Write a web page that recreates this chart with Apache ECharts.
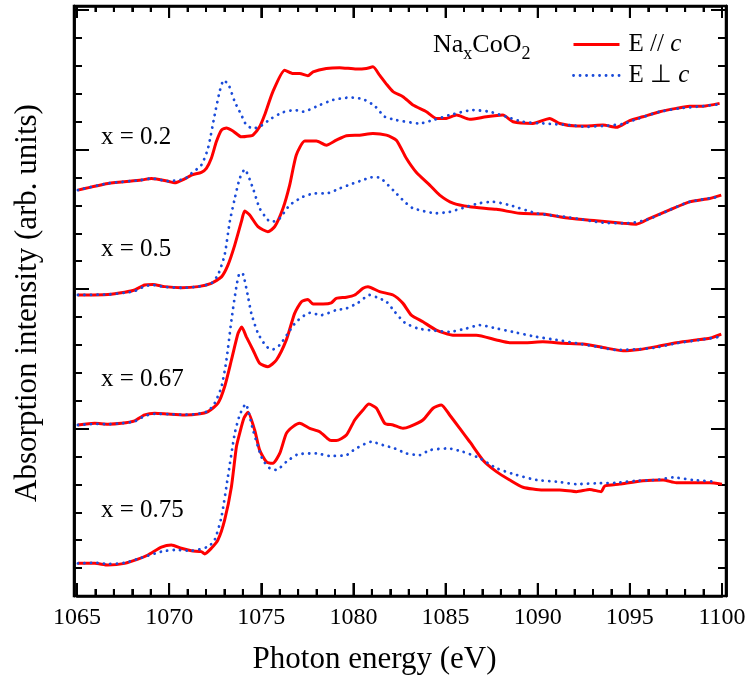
<!DOCTYPE html>
<html>
<head>
<meta charset="utf-8">
<script src="https://cdn.jsdelivr.net/npm/echarts@6/dist/echarts.min.js"></script>
<style>html,body{margin:0;padding:0;background:#fff}#c{width:749px;height:688px}</style>
</head>
<body>
<div id="c"></div>
<script>
// ---- data (energy eV, absorption intensity arb. units incl. vertical offset) ----
const xMajorTicks = [1065, 1070, 1075, 1080, 1085, 1090, 1095, 1100];
const yMajorTicks = [6, 11, 16, 21];
const sampleLabels = ['x = 0.2', 'x = 0.5', 'x = 0.67', 'x = 0.75'];
const seriesNames = ['E // c', 'E \u22A5 c'];

const par_x020 = [[1065.05,14.55],[1066.68,14.79],[1068.49,14.91],[1069.04,14.97],[1069.94,14.87],[1070.30,14.81],[1070.84,14.95],[1071.21,15.09],[1071.75,15.19],[1072.02,15.33],[1072.29,15.69],[1072.56,16.28],[1072.84,16.70],[1073.11,16.78],[1073.46,16.67],[1073.92,16.46],[1074.37,16.49],[1074.55,16.52],[1074.91,16.82],[1075.18,17.24],[1075.63,18.08],[1076.27,18.85],[1076.72,18.73],[1077.08,18.73],[1077.53,18.65],[1077.81,18.79],[1078.53,18.91],[1079.25,18.94],[1080.16,18.89],[1080.70,18.91],[1081.06,18.97],[1081.42,18.67],[1081.79,18.35],[1082.15,18.08],[1082.69,17.90],[1083.23,17.60],[1083.96,17.36],[1084.50,17.12],[1085.04,17.12],[1085.59,17.24],[1086.31,17.09],[1087.21,17.18],[1088.11,17.24],[1088.66,17.00],[1089.74,16.94],[1090.65,17.12],[1091.19,16.94],[1092.10,16.85],[1092.64,16.85],[1093.54,16.88],[1094.27,16.80],[1094.99,17.04],[1095.71,17.18],[1096.62,17.36],[1097.52,17.48],[1098.24,17.56],[1098.97,17.56],[1099.87,17.66]];
const perp_x020 = [[1065.05,14.55],[1066.68,14.79],[1068.49,14.91],[1069.04,14.97],[1069.94,14.87],[1070.84,14.95],[1071.21,15.15],[1071.75,15.45],[1072.11,16.05],[1072.47,17.24],[1072.74,18.08],[1072.96,18.49],[1073.23,18.32],[1073.56,17.72],[1073.92,17.24],[1074.19,16.88],[1074.55,16.76],[1074.91,16.82],[1075.55,17.12],[1076.18,17.34],[1076.81,17.42],[1077.26,17.36],[1078.17,17.60],[1078.89,17.78],[1079.80,17.87],[1080.52,17.81],[1081.15,17.57],[1081.70,17.18],[1082.33,17.06],[1083.59,16.94],[1084.32,17.06],[1085.22,17.24],[1086.49,17.42],[1087.39,17.36],[1088.30,17.18],[1089.20,17.00],[1090.28,16.94],[1091.73,16.88],[1092.64,16.82],[1093.54,16.85],[1094.63,16.92],[1095.35,17.09],[1096.62,17.36],[1097.70,17.48],[1098.97,17.56],[1099.87,17.63]];
const par_x050 = [[1065.05,10.79],[1066.68,10.81],[1067.59,10.89],[1068.13,10.97],[1068.67,11.15],[1069.12,11.17],[1069.76,11.09],[1070.66,11.05],[1071.57,11.09],[1072.29,11.21],[1072.84,11.44],[1073.19,11.86],[1073.56,12.58],[1073.92,13.42],[1074.10,13.80],[1074.37,13.66],[1074.82,13.24],[1075.36,13.06],[1075.73,13.24],[1076.18,13.90],[1076.54,14.73],[1076.90,15.81],[1077.36,16.31],[1077.99,16.31],[1078.53,16.16],[1079.07,16.34],[1079.62,16.50],[1080.34,16.52],[1081.06,16.58],[1081.79,16.52],[1082.33,16.34],[1082.87,15.69],[1083.42,15.18],[1084.14,14.73],[1084.68,14.37],[1085.40,14.08],[1086.31,13.95],[1087.76,13.86],[1089.02,13.72],[1090.28,13.69],[1091.73,13.54],[1093.18,13.45],[1094.63,13.36],[1095.35,13.33],[1096.08,13.54],[1097.16,13.84],[1098.24,14.13],[1099.33,14.25],[1099.96,14.37]];
const perp_x050 = [[1065.05,10.79],[1066.68,10.81],[1067.59,10.87],[1068.13,10.93],[1068.67,11.10],[1069.12,11.15],[1069.76,11.08],[1070.66,11.05],[1071.57,11.09],[1072.29,11.21],[1072.65,11.51],[1073.01,12.22],[1073.29,13.42],[1073.56,14.25],[1073.83,14.97],[1074.10,15.29],[1074.55,14.61],[1074.91,13.90],[1075.36,13.48],[1075.63,13.42],[1076.00,13.54],[1076.54,14.01],[1077.26,14.31],[1077.90,14.43],[1078.53,14.43],[1079.25,14.61],[1079.98,14.79],[1080.52,14.91],[1080.97,15.01],[1081.33,15.01],[1081.60,14.91],[1082.24,14.49],[1082.78,14.13],[1083.23,13.90],[1084.50,13.72],[1085.22,13.77],[1086.13,13.95],[1086.85,14.08],[1087.57,14.13],[1088.48,14.01],[1089.93,13.72],[1091.73,13.57],[1093.54,13.38],[1094.81,13.36],[1095.90,13.48],[1097.16,13.84],[1098.24,14.13],[1099.87,14.31]];
const par_x067 = [[1065.05,6.13],[1065.96,6.19],[1066.68,6.16],[1067.41,6.19],[1068.13,6.28],[1068.67,6.49],[1069.22,6.55],[1069.94,6.52],[1070.84,6.49],[1071.57,6.52],[1072.11,6.61],[1072.65,6.91],[1073.01,7.50],[1073.38,8.46],[1073.74,9.42],[1073.94,9.64],[1074.19,9.29],[1074.55,8.82],[1074.91,8.34],[1075.36,8.22],[1075.82,8.46],[1076.36,9.18],[1076.81,10.13],[1077.18,10.55],[1077.53,10.63],[1077.81,10.47],[1078.35,10.47],[1078.80,10.51],[1079.07,10.67],[1079.62,10.71],[1080.07,10.79],[1080.52,11.03],[1080.79,11.09],[1081.42,10.91],[1082.15,10.79],[1082.69,10.49],[1083.14,10.07],[1083.77,9.83],[1084.50,9.53],[1085.40,9.35],[1086.67,9.35],[1087.76,9.18],[1088.48,9.08],[1089.38,9.08],[1090.28,9.11],[1091.37,9.06],[1092.46,9.03],[1093.54,8.91],[1094.63,8.79],[1095.53,8.84],[1096.44,8.94],[1097.52,9.08],[1098.61,9.18],[1099.33,9.24],[1099.96,9.39]];
const perp_x067 = [[1065.05,6.13],[1065.96,6.17],[1066.68,6.16],[1067.41,6.19],[1068.13,6.26],[1068.67,6.45],[1069.22,6.53],[1069.94,6.52],[1070.84,6.50],[1071.57,6.53],[1072.11,6.63],[1072.47,6.91],[1072.84,7.50],[1073.11,8.46],[1073.38,9.89],[1073.65,11.09],[1073.83,11.57],[1074.01,11.54],[1074.28,10.73],[1074.46,10.13],[1074.82,9.42],[1075.28,8.94],[1075.63,8.84],[1076.00,9.00],[1076.45,9.42],[1076.90,9.83],[1077.63,10.15],[1078.26,10.07],[1079.07,10.25],[1079.62,10.31],[1080.25,10.51],[1080.88,10.79],[1081.25,10.71],[1081.79,10.55],[1082.24,10.19],[1082.78,9.80],[1083.50,9.59],[1084.14,9.53],[1085.22,9.47],[1086.13,9.59],[1086.85,9.71],[1087.76,9.59],[1088.84,9.44],[1089.93,9.29],[1091.01,9.18],[1092.10,9.06],[1093.18,8.94],[1094.27,8.82],[1095.35,8.84],[1096.44,8.91],[1097.52,9.06],[1098.79,9.18],[1099.87,9.29]];
const par_x075 = [[1065.05,1.17],[1065.96,1.17],[1066.68,1.11],[1067.59,1.17],[1068.31,1.32],[1068.85,1.47],[1069.58,1.75],[1070.12,1.83],[1070.66,1.71],[1071.21,1.62],[1071.75,1.59],[1071.93,1.51],[1072.29,1.71],[1072.65,2.01],[1073.01,2.72],[1073.38,3.92],[1073.65,5.35],[1073.83,5.84],[1074.06,6.38],[1074.28,6.59],[1074.64,5.95],[1074.91,5.23],[1075.28,4.81],[1075.63,4.76],[1076.00,5.11],[1076.36,5.83],[1076.72,6.07],[1077.08,6.19],[1077.63,6.01],[1078.17,5.89],[1078.71,5.59],[1079.07,5.57],[1079.62,5.77],[1080.07,6.31],[1080.52,6.67],[1080.84,6.88],[1081.25,6.73],[1081.70,6.19],[1082.15,6.13],[1082.69,6.01],[1083.05,6.07],[1083.77,6.31],[1084.32,6.73],[1084.77,6.85],[1085.22,6.49],[1085.77,6.01],[1086.31,5.53],[1087.03,4.87],[1087.76,4.46],[1088.48,4.16],[1089.20,3.90],[1090.28,3.80],[1091.19,3.80],[1092.10,3.74],[1092.82,3.82],[1093.45,3.74],[1093.63,3.94],[1094.45,4.01],[1095.71,4.13],[1096.80,4.16],[1097.52,4.06],[1098.61,4.06],[1099.33,4.06],[1100.00,4.01]];
const perp_x075 = [[1065.05,1.17],[1065.96,1.19],[1066.68,1.15],[1067.59,1.19],[1068.49,1.37],[1069.58,1.59],[1070.30,1.65],[1071.21,1.62],[1072.11,1.77],[1072.47,2.01],[1072.84,2.84],[1073.19,4.28],[1073.56,5.83],[1073.83,6.49],[1074.15,6.88],[1074.55,5.95],[1074.91,5.17],[1075.09,4.87],[1075.46,4.58],[1075.82,4.52],[1076.36,4.81],[1076.99,5.08],[1077.99,5.11],[1078.71,5.02],[1079.62,5.05],[1080.07,5.26],[1080.61,5.45],[1080.97,5.53],[1081.60,5.41],[1082.24,5.29],[1082.87,5.11],[1083.59,5.05],[1084.14,5.23],[1085.13,5.29],[1085.94,5.17],[1086.85,4.94],[1087.76,4.58],[1088.84,4.34],[1089.93,4.16],[1091.01,4.10],[1092.10,4.01],[1093.18,4.04],[1094.27,4.06],[1095.35,4.13],[1096.44,4.16],[1097.34,4.25],[1098.42,4.16],[1099.69,4.10]];

// ---- derived tick lists ----
const yMinorTicks = [];
for (let v = 0; v <= 21; v++) yMinorTicks.push(v);
const xAllTicks = [];
for (let v = xMajorTicks[0]; v <= xMajorTicks[xMajorTicks.length - 1]; v++) xAllTicks.push([v, 0]);

const FONT = "'Liberation Serif', 'Times New Roman', serif";
const RED = '#ff0000';
const BLUE = '#1a4bd9';
const DOT = [0.1, 6.4];
const Y_MAX = 21.15;

function xAx(pos, len, minorLen, label) {
  return {
    type: 'value', position: pos, min: xMajorTicks[0], max: xMajorTicks[xMajorTicks.length - 1], interval: 5,
    axisLine: { show: true, onZero: false, lineStyle: { color: '#000', width: 2.5 } },
    axisTick: { show: true, inside: true, length: len, lineStyle: { color: '#000', width: 2 } },
    minorTick: { show: true, splitNumber: 5, length: minorLen, lineStyle: { color: '#000', width: 2 } },
    axisLabel: label ? { show: true, fontFamily: FONT, fontSize: 24, color: '#000', margin: 10, formatter: function (v) { return String(v); } } : { show: false },
    splitLine: { show: false }, minorSplitLine: { show: false }
  };
}
function yAx(pos, ticks, len, off) {
  return {
    type: 'value', position: pos, offset: off, min: 0, max: Y_MAX,
    axisLine: { show: true, onZero: false, lineStyle: { color: '#000', width: 2.5 } },
    axisTick: { show: true, inside: true, length: len, customValues: ticks, lineStyle: { color: '#000', width: 2 } },
    axisLabel: { show: false },
    splitLine: { show: false }
  };
}

function redSeries(data) {
  return { name: seriesNames[0], type: 'line', data: data, showSymbol: false, symbol: 'none', smooth: 0.2,
    lineStyle: { color: RED, width: 3 }, itemStyle: { color: RED }, z: 2, silent: true };
}
function blueSeries(data) {
  return { name: seriesNames[1], type: 'line', data: data, showSymbol: false, symbol: 'none', smooth: 0.2,
    lineStyle: { color: BLUE, width: 2.8, type: DOT, cap: 'round' }, itemStyle: { color: BLUE }, z: 3, silent: true };
}

// tick marks on the bottom and top frame, placed through the x scale
function renderTicks(params, api) {
  const e = api.value(0);
  const major = xMajorTicks.indexOf(e) >= 0;
  const pb = api.coord([e, 0]);
  const pt = api.coord([e, Y_MAX]);
  const lb = major ? 13 : 7, lt = major ? 12 : 6;
  const st = { stroke: '#000', lineWidth: 2 };
  return { type: 'group', children: [
    { type: 'line', shape: { x1: pb[0], y1: pb[1], x2: pb[0], y2: pb[1] - lb }, style: st },
    { type: 'line', shape: { x1: pt[0], y1: pt[1], x2: pt[0], y2: pt[1] + lt }, style: st }
  ] };
}

const labelPos = [[101, 137], [101, 249], [101, 379], [101, 510]];

const chart = echarts.init(document.getElementById('c'), null, { renderer: 'canvas' });
chart.setOption({
  animation: false,
  backgroundColor: '#ffffff',
  grid: { left: 77, right: 27, top: 6, bottom: 92 },
  xAxis: [
    xAx('bottom', 13, 7, true),
    xAx('top', 12, 6, false)
  ],
  yAxis: [
    yAx('left', yMinorTicks, 8, 3),
    yAx('left', yMajorTicks, 15, 3),
    yAx('right', yMinorTicks, 8, 4),
    yAx('right', yMajorTicks, 15, 4)
  ],
  legend: {
    orient: 'vertical', left: 567, top: 27, itemWidth: 46, itemHeight: 14, itemGap: 6,
    selectedMode: false,
    itemStyle: { opacity: 0 },
    data: [
      { name: seriesNames[0], lineStyle: { width: 3 } },
      { name: seriesNames[1], lineStyle: { width: 2.8, type: DOT, cap: 'round' } }
    ],
    formatter: function (n) { return n.slice(0, -1) + '{i|c}'; },
    textStyle: { fontFamily: FONT, fontSize: 25, lineHeight: 25, color: '#000', padding: [0, 0, 0, 4],
      rich: { i: { fontFamily: FONT, fontSize: 25, fontStyle: 'italic', color: '#000' } } }
  },
  series: [
    redSeries(par_x020), redSeries(par_x050), redSeries(par_x067), redSeries(par_x075),
    blueSeries(perp_x020), blueSeries(perp_x050), blueSeries(perp_x067), blueSeries(perp_x075),
    { type: 'custom', name: 'ticks', data: xAllTicks, renderItem: renderTicks, silent: true, z: 5, clip: false,
      xAxisIndex: 0, yAxisIndex: 0 }
  ],
  graphic: [
    {
      type: 'rect', shape: { x: 74, y: 6, width: 652, height: 590 }, silent: true, z: 10,
      style: { fill: 'none', stroke: '#000', lineWidth: 2.5 }
    },
    {
      type: 'text', left: 'center', top: 644,
      style: { text: 'Photon energy (eV)', fontFamily: FONT, fontSize: 31, fill: '#000' }
    },
    {
      type: 'text', x: 28, y: 303, rotation: Math.PI / 2,
      style: { text: 'Absorption intensity (arb. units)', fontFamily: FONT, fontSize: 31, fill: '#000', align: 'center', verticalAlign: 'middle' }
    },
    {
      type: 'text', x: 433, y: 27,
      style: {
        text: 'Na{s|x}CoO{s|2}', fontFamily: FONT, fontSize: 26, fill: '#000',
        rich: { s: { fontFamily: FONT, fontSize: 18, verticalAlign: 'bottom', lineHeight: 36, fill: '#000' } }
      }
    }
  ].concat(sampleLabels.map(function (t, i) {
    return { type: 'text', x: labelPos[i][0], y: labelPos[i][1],
      style: { text: t, fontFamily: FONT, fontSize: 25, fill: '#000', verticalAlign: 'middle' } };
  }))
});
</script>
</body>
</html>
